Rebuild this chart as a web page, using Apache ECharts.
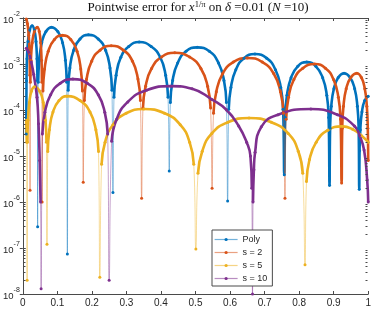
<!DOCTYPE html>
<html>
<head>
<meta charset="utf-8">
<script src="https://cdn.jsdelivr.net/npm/echarts@6/dist/echarts.min.js"></script>
<style>html,body{margin:0;padding:0;background:#fff}#c{width:374px;height:310px}</style>
</head>
<body>
<div id="c"></div>
<script>
// ---- data ----
const seriesNames = ['Poly', 's = 2', 's = 5', 's = 10'];
const xTickValues = [0, 0.1, 0.2, 0.3, 0.4, 0.5, 0.6, 0.7, 0.8, 0.9, 1];

const polyX = [0.01,0.0107,0.012,0.0151,0.0202,0.027,0.0334,0.0382,0.0411,0.0424,0.043,
  0.0446,0.0478,0.055,0.067,0.083,0.1014,0.1152,0.1235,0.1272,0.129,
  0.1314,0.1363,0.1473,0.1656,0.19,0.2184,0.2397,0.2525,0.2582,0.261,
  0.264,0.2701,0.2838,0.3066,0.337,0.3718,0.3979,0.4136,0.4205,0.424,
  0.4272,0.4337,0.4483,0.4726,0.505,0.5402,0.5666,0.5824,0.5895,0.593,
  0.5962,0.6025,0.6167,0.6404,0.672,0.706,0.7315,0.7468,0.7536,0.757,
  0.7596,0.7648,0.7765,0.796,0.822,0.8484,0.8682,0.8801,0.8854,0.888,
  0.8897,0.893,0.9006,0.9132,0.93,0.9476,0.9608,0.9687,0.9722,0.974,
  0.975,0.9771,0.9818,0.9896,1.0];
const polyY = [3e-5,4.3e-4,1.3e-3,3.1e-3,5.5e-3,6.8e-3,5.5e-3,3.1e-3,1.3e-3,4.3e-4,2.9e-7,
  4e-4,1.2e-3,2.9e-3,5.1e-3,6.3e-3,5.1e-3,2.9e-3,1.2e-3,4e-4,7.4e-8,
  2.7e-4,8.2e-4,2e-3,3.5e-3,4.3e-3,3.5e-3,2e-3,8.2e-4,2.7e-4,1.6e-6,
  1.9e-4,5.7e-4,1.4e-3,2.4e-3,3e-3,2.4e-3,1.4e-3,5.7e-4,1.9e-4,4.7e-6,
  1.45e-4,4.4e-4,1.05e-3,1.9e-3,2.3e-3,1.9e-3,1.05e-3,4.4e-4,1.45e-4,1.05e-6,
  1.04e-4,3.1e-4,7.5e-4,1.34e-3,1.65e-3,1.34e-3,7.5e-4,3.1e-4,1.04e-4,3.9e-6,
  6.9e-5,2.1e-4,5e-4,8.9e-4,1.1e-3,8.9e-4,5e-4,2.1e-4,6.9e-5,2.3e-6,
  4e-5,1.2e-4,2.9e-4,5.1e-4,6.3e-4,5.1e-4,2.9e-4,1.2e-4,4e-5,1.9e-6,
  1.3e-5,3.7e-5,9.1e-5,1.6e-4,2e-4];

const s2X = [0.01,0.0135,0.0172,0.0195,0.0205,0.021,
  0.0218,0.0235,0.0273,0.0336,0.042,0.0476,0.0518,0.0543,0.0554,0.056,
  0.0584,0.0631,0.0737,0.0914,0.115,0.139,0.157,0.1678,0.1726,0.175,
  0.1782,0.1847,0.1993,0.2236,0.256,0.2912,0.3176,0.3334,0.3405,0.344,
  0.3478,0.3555,0.3728,0.4016,0.44,0.4832,0.5156,0.535,0.5437,0.548,
  0.5521,0.5602,0.5786,0.6092,0.65,0.6936,0.7263,0.7459,0.7546,0.759,
  0.7624,0.7693,0.7848,0.8106,0.845,0.8762,0.8996,0.9136,0.9199,0.923,
  0.9248,0.9283,0.9362,0.9494,0.967,0.9802,0.9901,0.996,0.9987,1.0];
const s2Y = [9.5e-3,7.5e-3,4.2e-3,1.7e-3,5.7e-4,1.8e-6,
  4e-4,1.2e-3,2.9e-3,5.1e-3,6.3e-3,5.1e-3,2.9e-3,1.2e-3,4e-4,1e-6,
  2.6e-4,7.8e-4,1.9e-3,3.4e-3,4.2e-3,3.4e-3,1.9e-3,7.8e-4,2.6e-4,2.7e-6,
  1.6e-4,4.7e-4,1.15e-3,2e-3,2.5e-3,2e-3,1.15e-3,4.7e-4,1.6e-4,1.2e-6,
  1.1e-4,3.3e-4,8e-4,1.42e-3,1.75e-3,1.42e-3,8e-4,3.3e-4,1.1e-4,2e-6,
  8.5e-5,2.5e-4,6.2e-4,1.1e-3,1.35e-3,1.1e-3,6.2e-4,2.5e-4,8.5e-5,1.2e-6,
  6.3e-5,1.9e-4,4.6e-4,8.1e-4,1e-3,8.1e-4,4.6e-4,1.9e-4,6.3e-5,2.6e-6,
  4e-5,1.2e-4,2.9e-4,5.1e-4,6.3e-4,5.1e-4,2.9e-4,1.2e-4,4e-5,8e-6];

const s5X = [0.01,0.0115,0.0125,
  0.0134,0.0151,0.019,0.0254,0.034,0.0484,0.0592,0.0657,0.0686,0.07,
  0.0723,0.077,0.0874,0.1048,0.128,0.166,0.1945,0.2116,0.2192,0.223,
  0.2281,0.2382,0.2611,0.2992,0.35,0.4104,0.4557,0.4829,0.495,0.501,
  0.5072,0.5195,0.5472,0.5934,0.655,0.7198,0.7684,0.7976,0.8105,0.817,
  0.8213,0.83,0.8494,0.8818,0.925,0.955,0.98,1.0];
const s5Y = [6e-5,2e-5,2e-8,
  2e-5,6e-5,1.46e-4,2.6e-4,3.2e-4,2.6e-4,1.46e-4,6e-5,2e-5,1.2e-7,
  1.26e-5,3.7e-5,9.1e-5,1.6e-4,2e-4,1.6e-4,9.1e-5,3.7e-5,1.26e-5,2.3e-8,
  6.6e-6,2e-5,4.8e-5,8.5e-5,1.05e-4,8.5e-5,4.8e-5,2e-5,6.6e-6,9.5e-8,
  4.2e-6,1.27e-5,3.1e-5,5.4e-5,6.7e-5,5.4e-5,3.1e-5,1.27e-5,4.2e-6,4.3e-8,
  2.8e-6,8.4e-6,2e-5,3.6e-5,4.4e-5,3.8e-5,2.8e-5,2e-5];

const s10X = [0.01,0.0172,0.0245,0.0315,0.041,0.0455,0.049,0.0515,0.053,
  0.0567,0.064,0.0806,0.1082,0.145,0.187,0.2185,0.2374,0.2458,0.25,
  0.2572,0.2716,0.304,0.358,0.43,0.49,0.547,0.59,0.625,0.648,0.659,0.663,0.665,
  0.6665,0.669,0.6725,0.6905,0.739,0.834,0.911,0.96,0.975,0.988,0.997,1.0];
const s10Y = [2.2e-3,1.8e-3,1.1e-3,6e-4,1.9e-4,5e-5,8e-6,1e-6,1.3e-8,
  3e-5,8.9e-5,2.15e-4,3.8e-4,4.7e-4,3.8e-4,2.15e-4,8.9e-5,3e-5,2e-8,
  2.1e-5,6.3e-5,1.5e-4,2.7e-4,3.3e-4,2.9e-4,1.7e-4,1e-4,4.5e-5,2e-5,1e-5,2e-6,1e-8,
  1e-6,5e-6,1.2e-5,4.3e-5,7.9e-5,1.05e-4,7.9e-5,4.5e-5,2.8e-5,1.35e-5,3e-6,1e-6];

// axis decoration: log minor ticks (2..9 x 10^n)
const minorMultipliers = [2,3,4,5,6,7,8,9];
const minorDecades = [-8,-7,-6,-5,-4,-3];

// ---- chart ----
const colors = ['#0072BD', '#D95319', '#EDB120', '#7E2F8E'];
const xs = [polyX, s2X, s5X, s10X];
const ys = [polyY, s2Y, s5Y, s10Y];
const zip = (a, b) => a.map((v, i) => [v, b[i]]);
// same points, with the deep sampled zeros left out, for the dense (thick) part of each arch
const archOnly = (a, b) => a.map((v, i) => {
  const prev = i > 0 ? b[i - 1] : Infinity;
  const next = i < b.length - 1 ? b[i + 1] : Infinity;
  const isDip = b[i] * 30 < Math.min(prev, next);
  return [v, isDip ? '-' : b[i]];
});
const axisColor = '#4a4a4a';
const fontSans = 'Liberation Sans, Arial, Helvetica, sans-serif';
const fontSerif = 'Liberation Serif, DejaVu Serif, serif';

const minorTickData = [];
minorDecades.forEach(e => minorMultipliers.forEach(m => minorTickData.push([0, m * Math.pow(10, e)])));

const lineSeries = [];
seriesNames.forEach((name, i) => {
  lineSeries.push({
    name: name, type: 'line',
    data: zip(xs[i], ys[i]),
    xAxisIndex: 0, yAxisIndex: 0,
    symbol: 'circle', symbolSize: 3, showSymbol: true,
    smooth: 0.5,
    lineStyle: { color: colors[i], width: 1, opacity: 0.45 },
    itemStyle: { color: colors[i] },
    clip: true, z: 2
  });
  lineSeries.push({
    name: name, type: 'line',
    data: archOnly(xs[i], ys[i]),
    xAxisIndex: 0, yAxisIndex: 0,
    showSymbol: false, symbol: 'none',
    smooth: 0.5,
    connectNulls: false,
    lineStyle: { color: colors[i], width: 2.6 },
    itemStyle: { color: colors[i] },
    clip: true, z: 2
  });
});

const chart = echarts.init(document.getElementById('c'), null, { renderer: 'canvas' });
chart.setOption({
  animation: false,
  backgroundColor: '#fff',
  title: {
    text: '{n|Pointwise error for }{i|x}{s|1/π}{n| on }{i|δ}{n| =0.01 (}{i|N}{n| =10)}',
    left: 198, top: 0, textAlign: 'center', padding: 0,
    textStyle: {
      fontWeight: 'normal',
      rich: {
        n: { fontFamily: fontSerif, fontSize: 13, fontWeight: 'normal', color: '#111', lineHeight: 16 },
        i: { fontFamily: fontSerif, fontSize: 13, fontWeight: 'normal', fontStyle: 'italic', color: '#111', lineHeight: 16 },
        s: { fontFamily: fontSerif, fontSize: 8.5, fontWeight: 'normal', color: '#111', verticalAlign: 'top' }
      }
    }
  },
  grid: { left: 22, right: 3, top: 18, bottom: 16, containLabel: false },
  legend: {
    data: seriesNames,
    orient: 'vertical',
    left: 212, top: 230,
    padding: [5, 5, 3, 2],
    itemWidth: 23, itemHeight: 4, itemGap: 4,
    backgroundColor: '#fff',
    borderColor: axisColor, borderWidth: 1,
    textStyle: { fontFamily: fontSans, fontSize: 9, color: '#262626' },
    lineStyle: { width: 1.2, opacity: 0.55 },
    selectedMode: false
  },
  xAxis: [{
    type: 'value', min: 0, max: 1, interval: 0.1,
    axisLine: { show: true, lineStyle: { color: axisColor, width: 1 } },
    axisTick: { show: true, inside: true, length: 3, lineStyle: { color: axisColor } },
    axisLabel: { fontFamily: fontSans, fontSize: 10, color: '#262626', margin: 4,
      formatter: v => String(+v.toFixed(1)) },
    splitLine: { show: false }
  }, {
    type: 'value', min: 0, max: 1, interval: 0.1, position: 'top',
    axisLine: { show: true, lineStyle: { color: axisColor, width: 1 } },
    axisTick: { show: true, inside: true, length: 3, lineStyle: { color: axisColor } },
    axisLabel: { show: false },
    splitLine: { show: false }
  }],
  yAxis: [{
    type: 'log', min: 1e-8, max: 1e-2, logBase: 10, splitNumber: 6,
    axisLine: { show: true, lineStyle: { color: axisColor, width: 1 } },
    axisTick: { show: true, inside: true, length: 3, lineStyle: { color: axisColor } },
    axisLabel: {
      margin: 3,
      formatter: v => '{b|10}{s|' + Math.round(Math.log10(v)) + '}',
      rich: {
        b: { fontFamily: fontSans, fontSize: 9.5, color: '#262626', lineHeight: 14, verticalAlign: 'bottom' },
        s: { fontFamily: fontSans, fontSize: 7, color: '#262626', verticalAlign: 'top' }
      }
    },
    splitLine: { show: false }
  }, {
    type: 'log', min: 1e-8, max: 1e-2, logBase: 10, splitNumber: 6, position: 'right',
    axisLine: { show: true, lineStyle: { color: axisColor, width: 1 } },
    axisTick: { show: true, inside: true, length: 3, lineStyle: { color: axisColor } },
    axisLabel: { show: false },
    splitLine: { show: false }
  }],
  series: lineSeries.concat([{
    name: 'minorTicks',
    type: 'custom',
    xAxisIndex: 0, yAxisIndex: 0,
    silent: true, clip: false, z: 3,
    data: minorTickData,
    encode: { x: 0, y: 1 },
    renderItem: function (params, api) {
      const v = api.value(1);
      const pL = api.coord([0, v]);
      const pR = api.coord([1, v]);
      const y = Math.round(pL[1]) + 0.5;
      const xl = Math.round(pL[0]) + 0.5;
      const xr = Math.round(pR[0]) - 0.5;
      return { type: 'group', children: [
        { type: 'line', shape: { x1: xl, y1: y, x2: xl + 2, y2: y }, style: { stroke: axisColor, lineWidth: 1 } },
        { type: 'line', shape: { x1: xr - 2, y1: y, x2: xr, y2: y }, style: { stroke: axisColor, lineWidth: 1 } }
      ] };
    }
  }])
});
</script>
</body>
</html>
